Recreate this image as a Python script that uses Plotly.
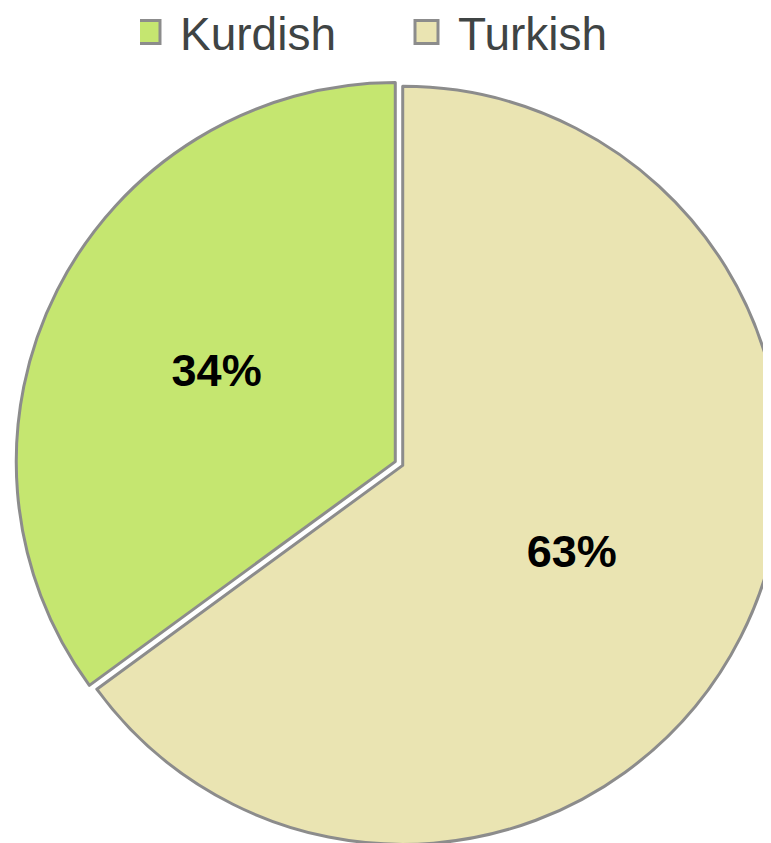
import plotly.graph_objects as go

labels = ["Kurdish", "Turkish"]
values = [34, 63]
text_labels = ["34%", "63%"]
colors = ["#C5E670", "#EAE4B2"]

# page body adds an 8px offset; figure is made a bit larger than the window
W, H = 800, 860
pull = 0.011

# first slice (Kurdish) ends at 12 o'clock, running clockwise from the lower left
start_rotation = -360.0 * values[0] / sum(values)

fig = go.Figure(go.Pie(
    labels=labels,
    values=values,
    text=text_labels,
    textinfo="text",
    textposition="inside",
    insidetextorientation="horizontal",
    textfont=dict(family="Liberation Sans", size=45, color="black", weight="bold"),
    marker=dict(colors=colors, line=dict(color="#8C8C8C", width=3)),
    sort=False,
    direction="clockwise",
    rotation=start_rotation,
    pull=[pull, pull],
    domain=dict(x=[0.00975, 0.96775], y=[0.02477, 0.91593]),
    hoverinfo="label+value",
))

fig.update_layout(
    width=W, height=H,
    margin=dict(l=0, r=0, t=0, b=0, autoexpand=False),
    paper_bgcolor="white",
    plot_bgcolor="white",
    showlegend=True,
    legend=dict(
        orientation="h",
        x=132 / W, xanchor="left",
        y=1 - 24 / H, yanchor="middle",
        entrywidth=233,
        font=dict(family="Liberation Sans", size=46, color="#3F4444"),
        bgcolor="rgba(0,0,0,0)",
    ),
)

# larger legend swatches with a gap before the label, as in the original chart
post = """
var gd = document.getElementById('{plot_id}');
gd.querySelectorAll('path.legendpie').forEach(function(p) {
  p.setAttribute('d', 'M0,11.5H-23V-11.5H0Z');
});
"""

fig.write_html("out.html", post_script=post)
